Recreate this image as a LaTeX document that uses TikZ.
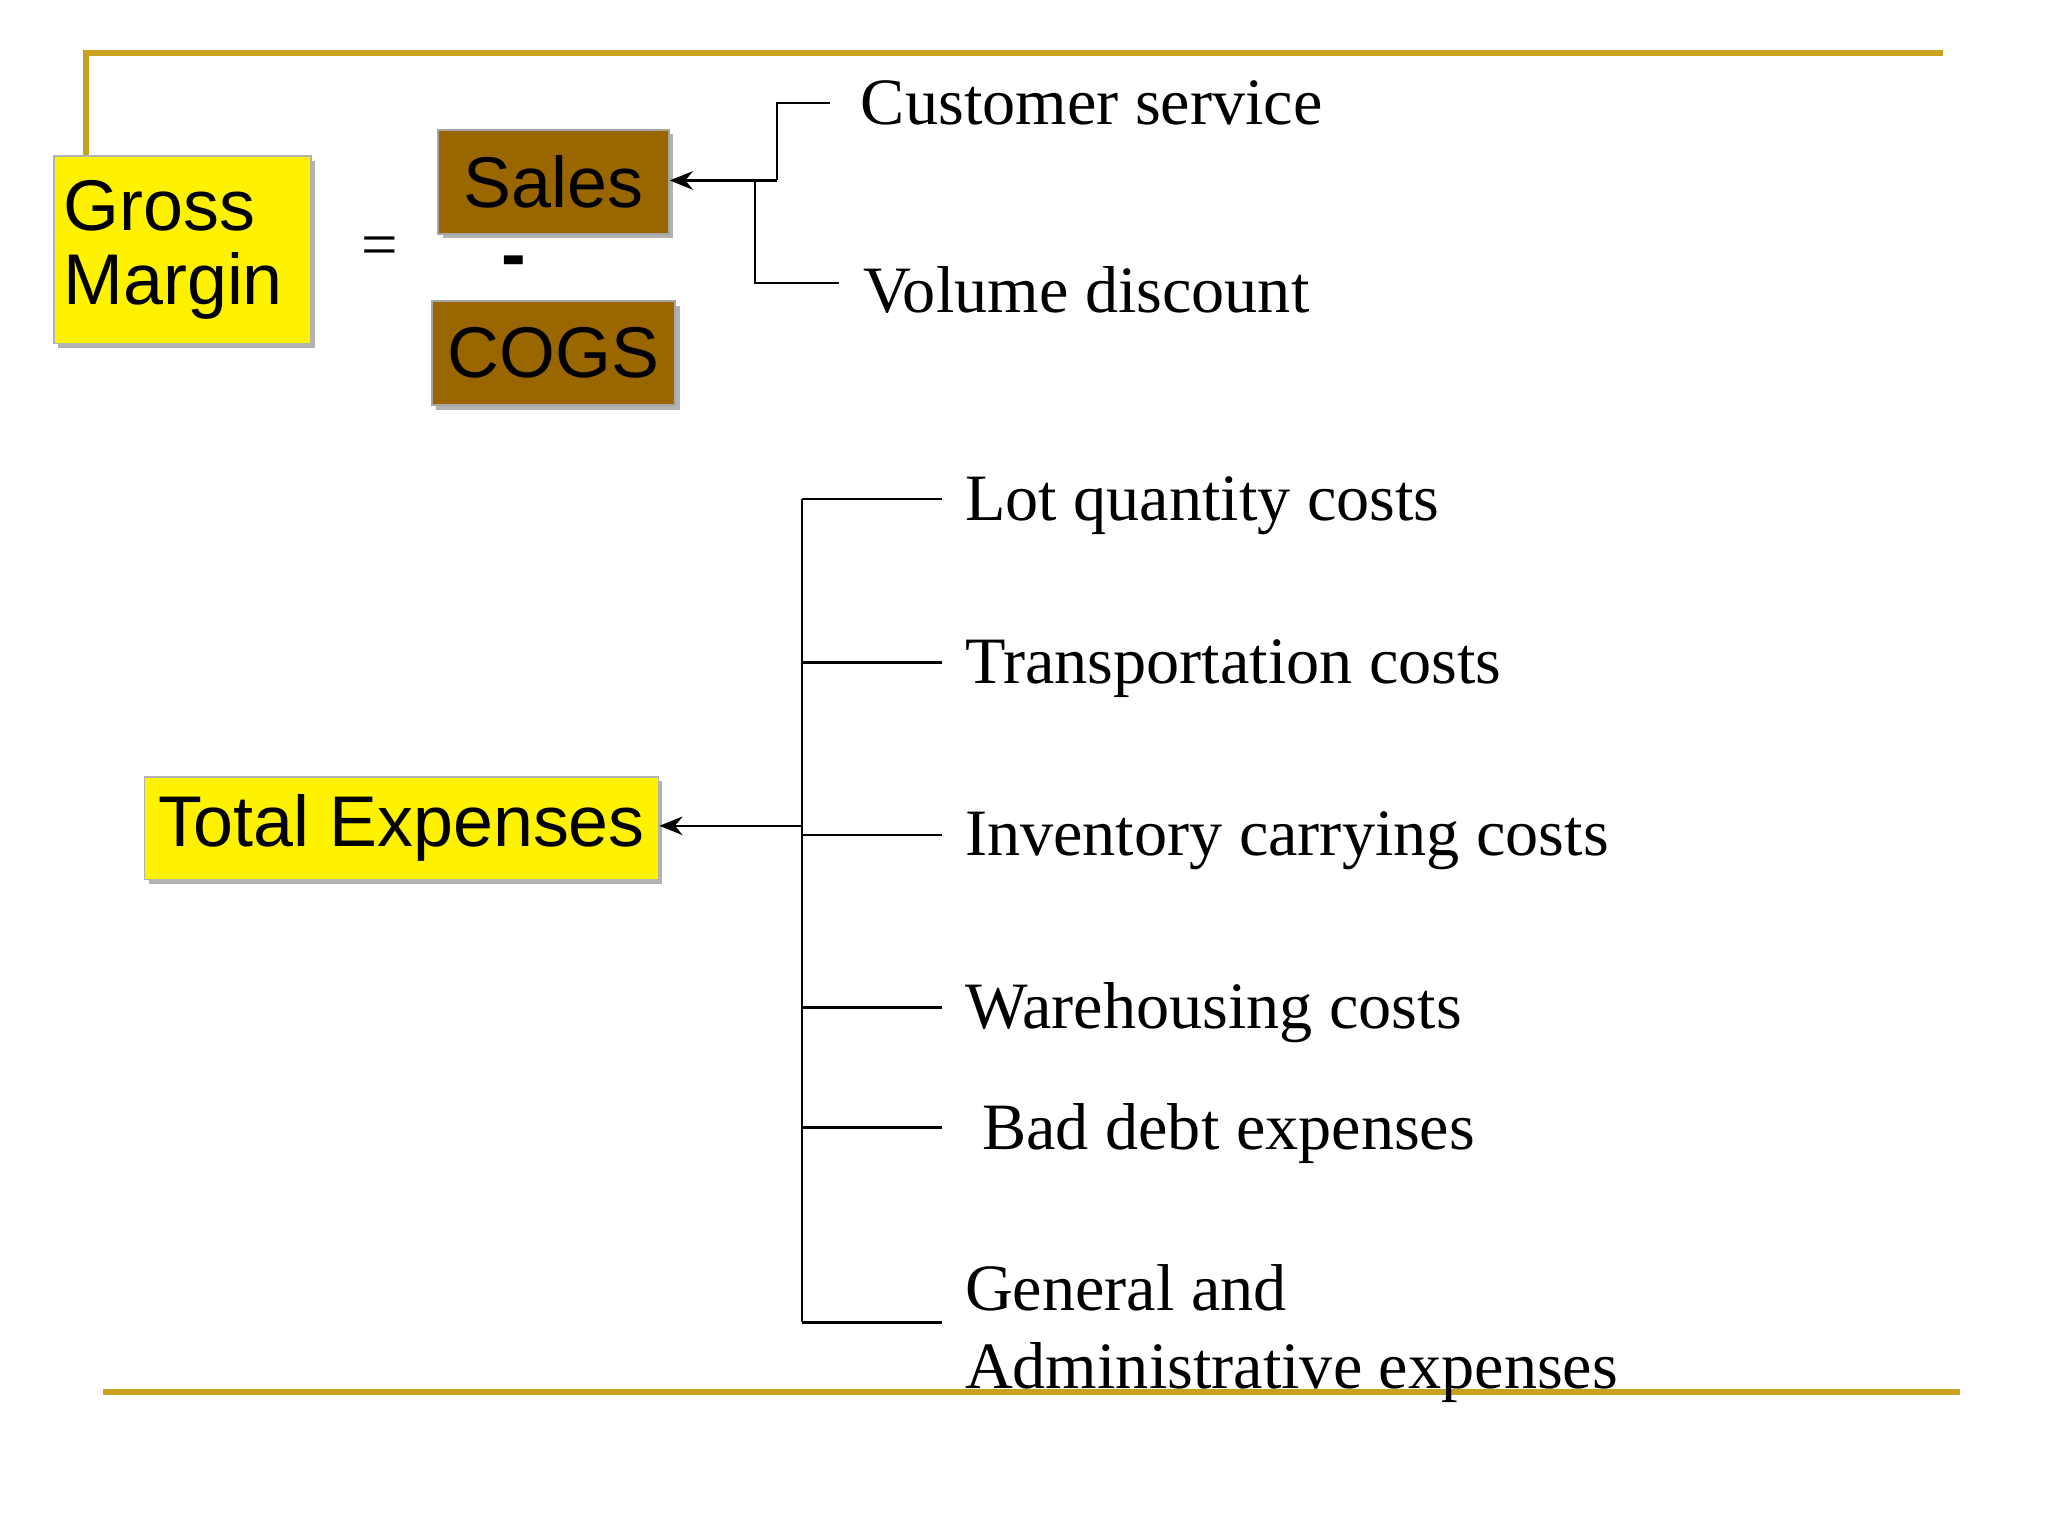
\documentclass[tikz,border=0pt]{standalone}
\usepackage{fontspec}
\setmainfont{Liberation Serif}
\newfontfamily\arial{Liberation Sans}
\usetikzlibrary{arrows.meta}
\definecolor{gold}{HTML}{C9A020}
\definecolor{brownbox}{HTML}{996600}
\begin{document}
\begin{tikzpicture}[x=0.01cm,y=-0.01cm,
  ybox/.style={fill=yellow,draw=gray!60,font=\arial\fontsize{15.5}{18}\selectfont,inner sep=0pt},
  bbox/.style={fill=brownbox,draw=gray!70,font=\arial\fontsize{15.5}{18}\selectfont,inner sep=0pt},
  lbl/.style={anchor=west,font=\fontsize{14.3}{17}\selectfont,inner sep=0pt},
  ln/.style={line width=0.5pt},
  arr/.style={ln,-{Stealth[length=5pt,width=4pt]}}]
\useasboundingbox (0,0) rectangle (1555,1166);
\draw[gold,line width=1.3pt] (65,118) -- (65,40) -- (1475,40);
\draw[gold,line width=1.3pt] (78,1057) -- (1488,1057);
% shadows
\fill[gray!60] (44,122) rectangle (239,264);
\fill[gray!60] (336,102) rectangle (511,181);
\fill[gray!60] (331,232) rectangle (516,311);
\fill[gray!60] (113,593) rectangle (503,671);
\node[ybox,minimum width=1.95cm,minimum height=1.42cm,anchor=north west,align=left,text width=1.8cm] (gm) at (40,118) {Gross\\[-2pt]Margin};
\node[bbox,minimum width=1.75cm,minimum height=0.79cm,anchor=north west] (sales) at (332,98) {Sales};
\node[bbox,minimum width=1.85cm,minimum height=0.79cm,anchor=north west] (cogs) at (327,228) {COGS};
\node[ybox,minimum width=3.9cm,minimum height=0.78cm,anchor=north west] (te) at (109,589) {Total Expenses};
\node[font=\fontsize{14}{16}\selectfont] (eq) at (288,191) {=};
\node[font=\arial\bfseries\fontsize{16}{18}\selectfont] (minus) at (390,203) {-};
\node[lbl] (cs) at (653,78) {Customer service};
\node[lbl] (vd) at (655,220) {Volume discount};
\coordinate (j1) at (590,137);
\draw[arr] (j1) -- (sales.east |- j1);
\draw[ln] (j1) -- (590,78) -- (630,78);
\draw[ln] (573,137) -- (573,215) -- (637,215);
\coordinate (j2) at (609,627);
\draw[arr] (j2) -- (te.east |- j2);
\draw[ln] (609,379) -- (609,1004);
\foreach \y in {379,503,634,765,856,1004} \draw[ln] (609,\y) -- (715,\y);
\node[lbl] (l1) at (732,384) {Lot quantity costs};
\node[lbl] (l2) at (732,508) {Transportation costs};
\node[lbl] (l3) at (732,638) {Inventory carrying costs};
\node[lbl] (l4) at (732,769) {Warehousing costs};
\node[lbl] (l5) at (745,861) {Bad debt expenses};
\node[lbl] (l6) at (732,978) {General and};
\node[lbl] (l7) at (732,1042) {Administrative expenses};
\end{tikzpicture}
\end{document}
